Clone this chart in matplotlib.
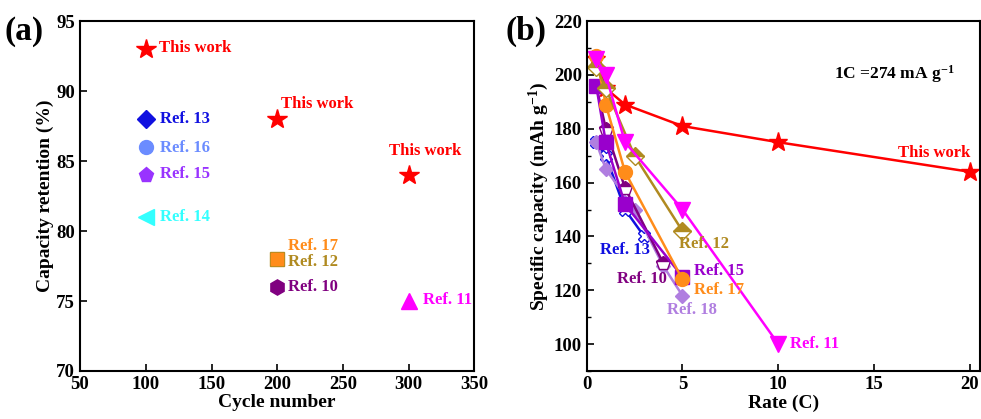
import numpy as np
import matplotlib
matplotlib.use("Agg")
import matplotlib.pyplot as plt

plt.rcParams['font.family'] = ['Liberation Serif', 'DejaVu Serif']
plt.rcParams['font.weight'] = 'bold'
plt.rcParams['axes.labelweight'] = 'bold'
plt.rcParams['mathtext.fontset'] = 'custom'
plt.rcParams['mathtext.rm'] = 'Liberation Serif:bold'
plt.rcParams['mathtext.it'] = 'Liberation Serif:bold'

# ---- panel (a): retention vs cycle number
a_names   = ['This work', 'This work', 'This work', 'Ref. 13', 'Ref. 16', 'Ref. 15',
             'Ref. 14', 'Ref. 12', 'Ref. 17', 'Ref. 10', 'Ref. 11']
a_cycles  = [100, 200, 300, 100, 100, 100, 100, 200, 200, 200, 300]
a_retent  = [93, 88, 84, 88, 86, 84, 81, 78, 78, 76, 75]

# ---- panel (b): rate capability
rate_this  = [0.5, 1, 2, 5, 10, 20]
cap_this   = [206, 195, 189, 181, 175, 164]
rate_r11   = [0.5, 1, 2, 5, 10]
cap_r11    = [206, 200, 175, 150, 100]
rate_r12   = [0.5, 1, 2.5, 5]
cap_r12    = [203, 195, 170, 142]
rate_r17   = [0.5, 1, 2, 5]
cap_r17    = [207, 189, 164, 124]
rate_r15   = [0.5, 1, 2, 5]
cap_r15    = [196, 175, 152, 125]
rate_r10   = [0.5, 1, 2, 4]
cap_r10    = [196, 180, 158, 130]
rate_r13   = [0.5, 1, 2, 3]
cap_r13    = [175, 170, 150, 140]
rate_r18   = [0.5, 1, 2.5, 4, 5]
cap_r18    = [175, 165, 150, 129, 118]

red = '#ff0000'
c13 = '#1010e0'
c16 = '#6b8cff'
c15 = '#9933ff'
c14 = '#33ffff'
c17 = '#ff8c1a'
c12 = '#b08a20'
c10 = '#800080'
c11 = '#ff00ff'
c15b = '#9900cc'
c18 = '#b07ee0'

fig = plt.figure(figsize=(9.81, 4.19), dpi=100)
ax1 = fig.add_axes([0.0816, 0.1146, 0.402, 0.835])
ax2 = fig.add_axes([0.598, 0.1146, 0.4006, 0.835])

for ax in (ax1, ax2):
    for s in ax.spines.values():
        s.set_linewidth(1.5)
    ax.tick_params(direction='in', length=5, width=1.2, labelsize=13.5)

# panel a markers
a_style = {
    'This work': dict(marker='*', color=red, ms=15),
    'Ref. 13': dict(marker='D', color=c13, ms=9),
    'Ref. 16': dict(marker='o', color=c16, ms=10),
    'Ref. 15': dict(marker='p', color=c15, ms=11),
    'Ref. 14': dict(marker='<', color=c14, ms=11),
    'Ref. 12': dict(marker='s', color=c12, ms=10),
    'Ref. 17': dict(marker='s', color=c17, ms=8.5),
    'Ref. 10': dict(marker='h', color=c10, ms=11),
    'Ref. 11': dict(marker='^', color=c11, ms=11),
}
for n, x, y in zip(a_names, a_cycles, a_retent):
    st = a_style[n]
    ax1.plot(x, y, ls='none', marker=st['marker'], color=st['color'], ms=st['ms'],
             mec=st['color'])

a_lab_pos = [(110, 93.1), (203, 89.1), (285, 85.7),
             (111, 88), (111, 85.9), (111, 84.1),
             (111, 81), (208, 77.8), (208, 78.9),
             (208, 76), (311, 75.1)]
for n, (x, y) in zip(a_names, a_lab_pos):
    ax1.text(x, y, n, color=a_style[n]['color'], fontsize=12, fontweight='bold',
             ha='left', va='center')

ax1.set_xlim(50, 350)
ax1.set_ylim(70, 95)
ax1.set_xticks(np.arange(50, 351, 50))
ax1.set_yticks(np.arange(70, 96, 5))
ax1.set_xlabel('Cycle number', fontsize=14, labelpad=1)
ax1.set_ylabel('Capacity retention (%)', fontsize=14, labelpad=2)

# panel b lines (red drawn first so it sits underneath)
lw = 1.8
ax2.plot(rate_this, cap_this, color=red, lw=lw, marker='*', ms=14, mfc=red, mec=red)
ax2.plot(rate_r13, cap_r13, color=c13, lw=lw, marker='X', ms=9, mfc='white', mec=c13)
ax2.plot(rate_r18, cap_r18, color=c18, lw=lw, marker='D', ms=7, mfc=c18, mec=c18)
ax2.plot(rate_r10, cap_r10, color=c10, lw=lw, marker='p', ms=10, fillstyle='top',
         mfc=c10, mfcalt='white', mec=c10)
ax2.plot(rate_r15, cap_r15, color=c15b, lw=lw, marker='s', ms=10, mfc=c15b, mec=c15b)
ax2.plot(rate_r17, cap_r17, color=c17, lw=lw, marker='o', ms=10, mfc=c17, mec=c17)
ax2.plot(rate_r12, cap_r12, color=c12, lw=lw, marker='D', ms=9, fillstyle='top',
         mfc=c12, mfcalt='white', mec=c12)
ax2.plot(rate_r11, cap_r11, color=c11, lw=lw, marker='v', ms=11, mfc=c11, mec=c11)

b_labels = [('This work', 20.0, 171, red, 'right'),
            ('Ref. 12', 4.8, 137, c12, 'left'),
            ('Ref. 13', 0.68, 135, c13, 'left'),
            ('Ref. 15', 5.6, 127, c15b, 'left'),
            ('Ref. 10', 1.6, 124, c10, 'left'),
            ('Ref. 17', 5.6, 120, c17, 'left'),
            ('Ref. 18', 4.2, 112.5, c18, 'left'),
            ('Ref. 11', 10.6, 100, c11, 'left')]
for t, x, y, c, ha in b_labels:
    ax2.text(x, y, t, color=c, fontsize=12, fontweight='bold', ha=ha, va='center')

ax2.text(12.9, 200.5, '1C =274 mA g$^{-1}$', fontsize=12.5, fontweight='bold',
         ha='left', va='center')

ax2.set_xlim(0, 20.5)
ax2.set_ylim(90, 220)
ax2.set_xticks([0, 5, 10, 15, 20])
ax2.set_yticks(np.arange(100, 221, 20))
ax2.set_yticks(np.arange(90, 221, 10), minor=True)
ax2.tick_params(which='minor', direction='in', length=3, width=1.0)
ax2.set_xlabel('Rate (C)', fontsize=14, labelpad=1)
ax2.set_ylabel('Specific capacity (mAh g$^{-1}$)', fontsize=14, labelpad=2)

for ax in (ax1, ax2):
    for lab in ax.get_xticklabels() + ax.get_yticklabels():
        lab.set_fontweight('bold')

fig.text(0.005, 0.925, '(a)', fontsize=24, fontweight='bold', va='center')
fig.text(0.515, 0.925, '(b)', fontsize=24, fontweight='bold', va='center')

fig.savefig('out.png', dpi=100)
